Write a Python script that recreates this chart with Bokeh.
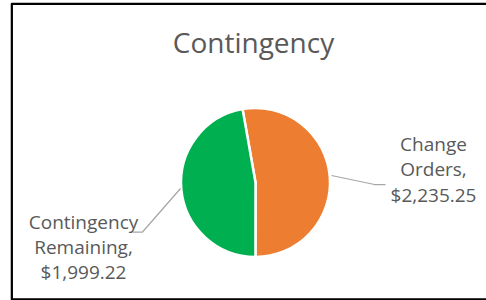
import numpy as np
from bokeh.plotting import figure
from bokeh.models import Range1d, BoxAnnotation, ColumnDataSource
from bokeh.core.properties import value
from bokeh.embed import file_html
from bokeh.resources import INLINE

# ---- data ----
title_text = "Contingency"
categories = ["Change Orders", "Contingency Remaining"]
values = [2235.25, 1999.22]
colors = ["#ED7D31", "#00B050"]

# ---- layout (page pixel coordinates; y data = -page y) ----
FONT = "Open Sans"
TXT = "#595959"
cx, cy, r = 255.0, -182.0, 74.5
first_slice_angle = 350.0  # compass degrees, clockwise from 12 o'clock

vals = np.array(values, dtype=float)
frac = vals / vals.sum()
cum = np.concatenate([[0.0], np.cumsum(frac)]) * 360.0 + first_slice_angle
start_c, end_c = cum[:-1], cum[1:]
start_math = np.radians(np.mod(90.0 - end_c, 360.0))
end_math = np.radians(np.mod(90.0 - start_c, 360.0))

p = figure(width=476, height=298, output_backend="svg", toolbar_location=None,
           x_range=Range1d(10, 486), y_range=Range1d(-300, -2),
           min_border=0, margin=(2, 0, 0, 10))
p.axis.visible = False
p.grid.visible = False
p.outline_line_color = None
p.background_fill_color = "white"
p.border_fill_color = "white"

src = ColumnDataSource(dict(start=start_math, end=end_math, color=colors))
p.wedge(x=cx, y=cy, radius=r, start_angle="start", end_angle="end",
        fill_color="color", line_color="white", line_width=2.5, source=src)

# leader lines
p.line([331, 374, 385], [-175, -184, -184], line_color="#A6A6A6", line_width=1.25)
p.line([180, 142, 132], [-188, -231.5, -231.5], line_color="#A6A6A6", line_width=1.25)

# data labels
label_pos = [(433, -143.0, 25.5), (83, -221.0, 25.0)]
xs, ys, ts = [], [], []
for cat, v, (lx, ly, lh) in zip(categories, values, label_pos):
    lines = cat.split(" ")
    lines[-1] = lines[-1] + ","
    lines.append(f"${v:,.2f}")
    for i, t in enumerate(lines):
        xs.append(lx); ys.append(ly - i * lh); ts.append(t)
p.text(x=xs, y=ys, text=ts, text_align="center", text_baseline="alphabetic",
       text_font=value(FONT), text_font_size=value("19px"), text_color=TXT)

# title
p.text(x=[253], y=[-41.5], text=[title_text], text_align="center", text_baseline="alphabetic",
       text_font=value(FONT), text_font_size=value("28px"), text_color=TXT)

# chart border
p.add_layout(BoxAnnotation(left=11.2, right=500, top=-3.2, bottom=-299,
                           fill_alpha=0, line_color="black", line_alpha=1.0, line_width=2.5))

open("out.html", "w").write(file_html(p, INLINE))
